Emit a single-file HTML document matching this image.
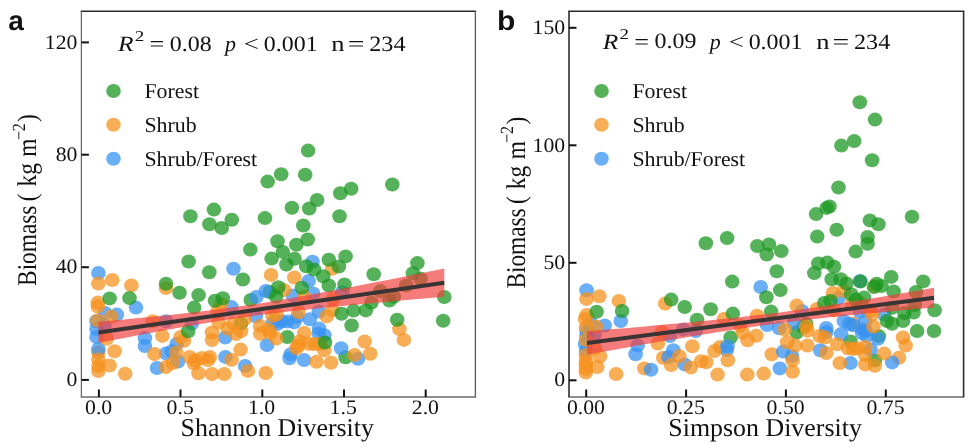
<!DOCTYPE html>
<html><head><meta charset="utf-8"><style>
html,body{margin:0;padding:0;background:#fff;}
svg{display:block;}
text{text-rendering:geometricPrecision;}
text{fill:#111;}
</style></head><body>
<svg width="976" height="446" viewBox="0 0 976 446">
<rect width="976" height="446" fill="#fff"/>
<g opacity="0.999">
<ellipse cx="250.8" cy="300.0" rx="7.3" ry="7.0" fill="#1E9823" fill-opacity="0.75"/>
<ellipse cx="269.8" cy="292.0" rx="7.3" ry="7.0" fill="#1E9823" fill-opacity="0.75"/>
<ellipse cx="98.4" cy="352.5" rx="7.3" ry="7.0" fill="#F6921F" fill-opacity="0.75"/>
<ellipse cx="241.1" cy="323.6" rx="7.3" ry="7.0" fill="#1E9823" fill-opacity="0.75"/>
<ellipse cx="345.6" cy="357.2" rx="7.3" ry="7.0" fill="#1E9823" fill-opacity="0.75"/>
<ellipse cx="287.3" cy="337.0" rx="7.3" ry="7.0" fill="#1E9823" fill-opacity="0.75"/>
<ellipse cx="312.5" cy="261.8" rx="7.3" ry="7.0" fill="#3893F2" fill-opacity="0.75"/>
<ellipse cx="308.6" cy="281.1" rx="7.3" ry="7.0" fill="#3893F2" fill-opacity="0.75"/>
<ellipse cx="233.5" cy="268.7" rx="7.3" ry="7.0" fill="#3893F2" fill-opacity="0.75"/>
<ellipse cx="98.4" cy="272.9" rx="7.3" ry="7.0" fill="#3893F2" fill-opacity="0.75"/>
<ellipse cx="136.0" cy="307.6" rx="7.3" ry="7.0" fill="#3893F2" fill-opacity="0.75"/>
<ellipse cx="231.4" cy="307.1" rx="7.3" ry="7.0" fill="#3893F2" fill-opacity="0.75"/>
<ellipse cx="256.3" cy="297.0" rx="7.3" ry="7.0" fill="#3893F2" fill-opacity="0.75"/>
<ellipse cx="265.8" cy="291.1" rx="7.3" ry="7.0" fill="#3893F2" fill-opacity="0.75"/>
<ellipse cx="292.9" cy="295.6" rx="7.3" ry="7.0" fill="#3893F2" fill-opacity="0.75"/>
<ellipse cx="313.1" cy="293.4" rx="7.3" ry="7.0" fill="#3893F2" fill-opacity="0.75"/>
<ellipse cx="342.3" cy="292.3" rx="7.3" ry="7.0" fill="#3893F2" fill-opacity="0.75"/>
<ellipse cx="318.8" cy="311.5" rx="7.3" ry="7.0" fill="#3893F2" fill-opacity="0.75"/>
<ellipse cx="297.4" cy="316.9" rx="7.3" ry="7.0" fill="#3893F2" fill-opacity="0.75"/>
<ellipse cx="281.7" cy="321.4" rx="7.3" ry="7.0" fill="#3893F2" fill-opacity="0.75"/>
<ellipse cx="309.8" cy="319.2" rx="7.3" ry="7.0" fill="#3893F2" fill-opacity="0.75"/>
<ellipse cx="105.1" cy="312.9" rx="7.3" ry="7.0" fill="#3893F2" fill-opacity="0.75"/>
<ellipse cx="116.9" cy="314.6" rx="7.3" ry="7.0" fill="#3893F2" fill-opacity="0.75"/>
<ellipse cx="96.5" cy="321.3" rx="7.3" ry="7.0" fill="#3893F2" fill-opacity="0.75"/>
<ellipse cx="96.5" cy="329.0" rx="7.3" ry="7.0" fill="#3893F2" fill-opacity="0.75"/>
<ellipse cx="96.5" cy="337.0" rx="7.3" ry="7.0" fill="#3893F2" fill-opacity="0.75"/>
<ellipse cx="104.5" cy="325.8" rx="7.3" ry="7.0" fill="#3893F2" fill-opacity="0.75"/>
<ellipse cx="166.2" cy="321.3" rx="7.3" ry="7.0" fill="#3893F2" fill-opacity="0.75"/>
<ellipse cx="144.9" cy="338.1" rx="7.3" ry="7.0" fill="#3893F2" fill-opacity="0.75"/>
<ellipse cx="144.9" cy="346.0" rx="7.3" ry="7.0" fill="#3893F2" fill-opacity="0.75"/>
<ellipse cx="176.6" cy="344.0" rx="7.3" ry="7.0" fill="#3893F2" fill-opacity="0.75"/>
<ellipse cx="98.4" cy="349.0" rx="7.3" ry="7.0" fill="#3893F2" fill-opacity="0.75"/>
<ellipse cx="166.2" cy="353.5" rx="7.3" ry="7.0" fill="#3893F2" fill-opacity="0.75"/>
<ellipse cx="171.8" cy="351.2" rx="7.3" ry="7.0" fill="#3893F2" fill-opacity="0.75"/>
<ellipse cx="157.0" cy="368.0" rx="7.3" ry="7.0" fill="#3893F2" fill-opacity="0.75"/>
<ellipse cx="178.0" cy="361.5" rx="7.3" ry="7.0" fill="#3893F2" fill-opacity="0.75"/>
<ellipse cx="255.7" cy="316.3" rx="7.3" ry="7.0" fill="#3893F2" fill-opacity="0.75"/>
<ellipse cx="273.1" cy="322.5" rx="7.3" ry="7.0" fill="#3893F2" fill-opacity="0.75"/>
<ellipse cx="225.2" cy="337.5" rx="7.3" ry="7.0" fill="#3893F2" fill-opacity="0.75"/>
<ellipse cx="191.8" cy="323.6" rx="7.3" ry="7.0" fill="#3893F2" fill-opacity="0.75"/>
<ellipse cx="267.0" cy="345.1" rx="7.3" ry="7.0" fill="#3893F2" fill-opacity="0.75"/>
<ellipse cx="225.4" cy="356.9" rx="7.3" ry="7.0" fill="#3893F2" fill-opacity="0.75"/>
<ellipse cx="245.1" cy="365.9" rx="7.3" ry="7.0" fill="#3893F2" fill-opacity="0.75"/>
<ellipse cx="341.1" cy="348.2" rx="7.3" ry="7.0" fill="#3893F2" fill-opacity="0.75"/>
<ellipse cx="358.0" cy="358.7" rx="7.3" ry="7.0" fill="#3893F2" fill-opacity="0.75"/>
<ellipse cx="289.6" cy="358.3" rx="7.3" ry="7.0" fill="#3893F2" fill-opacity="0.75"/>
<ellipse cx="304.1" cy="360.1" rx="7.3" ry="7.0" fill="#3893F2" fill-opacity="0.75"/>
<ellipse cx="318.7" cy="333.6" rx="7.3" ry="7.0" fill="#3893F2" fill-opacity="0.75"/>
<ellipse cx="277.3" cy="324.1" rx="7.3" ry="7.0" fill="#3893F2" fill-opacity="0.75"/>
<ellipse cx="294.1" cy="322.4" rx="7.3" ry="7.0" fill="#3893F2" fill-opacity="0.75"/>
<ellipse cx="324.4" cy="335.3" rx="7.3" ry="7.0" fill="#3893F2" fill-opacity="0.75"/>
<ellipse cx="290.8" cy="354.3" rx="7.3" ry="7.0" fill="#3893F2" fill-opacity="0.75"/>
<ellipse cx="287.5" cy="321.5" rx="7.3" ry="7.0" fill="#3893F2" fill-opacity="0.75"/>
<ellipse cx="319.0" cy="328.5" rx="7.3" ry="7.0" fill="#3893F2" fill-opacity="0.75"/>
<ellipse cx="332.2" cy="268.7" rx="7.3" ry="7.0" fill="#F6921F" fill-opacity="0.75"/>
<ellipse cx="294.3" cy="277.5" rx="7.3" ry="7.0" fill="#F6921F" fill-opacity="0.75"/>
<ellipse cx="271.1" cy="274.9" rx="7.3" ry="7.0" fill="#F6921F" fill-opacity="0.75"/>
<ellipse cx="98.4" cy="283.5" rx="7.3" ry="7.0" fill="#F6921F" fill-opacity="0.75"/>
<ellipse cx="112.2" cy="280.0" rx="7.3" ry="7.0" fill="#F6921F" fill-opacity="0.75"/>
<ellipse cx="131.4" cy="285.4" rx="7.3" ry="7.0" fill="#F6921F" fill-opacity="0.75"/>
<ellipse cx="166.0" cy="288.0" rx="7.3" ry="7.0" fill="#F6921F" fill-opacity="0.75"/>
<ellipse cx="97.8" cy="302.6" rx="7.3" ry="7.0" fill="#F6921F" fill-opacity="0.75"/>
<ellipse cx="97.8" cy="306.5" rx="7.3" ry="7.0" fill="#F6921F" fill-opacity="0.75"/>
<ellipse cx="221.1" cy="304.3" rx="7.3" ry="7.0" fill="#F6921F" fill-opacity="0.75"/>
<ellipse cx="284.0" cy="290.0" rx="7.3" ry="7.0" fill="#F6921F" fill-opacity="0.75"/>
<ellipse cx="304.1" cy="296.7" rx="7.3" ry="7.0" fill="#F6921F" fill-opacity="0.75"/>
<ellipse cx="333.3" cy="299.0" rx="7.3" ry="7.0" fill="#F6921F" fill-opacity="0.75"/>
<ellipse cx="326.7" cy="316.3" rx="7.3" ry="7.0" fill="#F6921F" fill-opacity="0.75"/>
<ellipse cx="332.2" cy="310.2" rx="7.3" ry="7.0" fill="#F6921F" fill-opacity="0.75"/>
<ellipse cx="298.6" cy="312.3" rx="7.3" ry="7.0" fill="#F6921F" fill-opacity="0.75"/>
<ellipse cx="276.6" cy="314.4" rx="7.3" ry="7.0" fill="#F6921F" fill-opacity="0.75"/>
<ellipse cx="111.3" cy="316.8" rx="7.3" ry="7.0" fill="#F6921F" fill-opacity="0.75"/>
<ellipse cx="106.8" cy="338.7" rx="7.3" ry="7.0" fill="#F6921F" fill-opacity="0.75"/>
<ellipse cx="152.7" cy="321.3" rx="7.3" ry="7.0" fill="#F6921F" fill-opacity="0.75"/>
<ellipse cx="162.3" cy="335.9" rx="7.3" ry="7.0" fill="#F6921F" fill-opacity="0.75"/>
<ellipse cx="114.6" cy="351.2" rx="7.3" ry="7.0" fill="#F6921F" fill-opacity="0.75"/>
<ellipse cx="98.4" cy="359.6" rx="7.3" ry="7.0" fill="#F6921F" fill-opacity="0.75"/>
<ellipse cx="98.4" cy="366.0" rx="7.3" ry="7.0" fill="#F6921F" fill-opacity="0.75"/>
<ellipse cx="98.4" cy="371.0" rx="7.3" ry="7.0" fill="#F6921F" fill-opacity="0.75"/>
<ellipse cx="109.6" cy="365.5" rx="7.3" ry="7.0" fill="#F6921F" fill-opacity="0.75"/>
<ellipse cx="125.2" cy="373.7" rx="7.3" ry="7.0" fill="#F6921F" fill-opacity="0.75"/>
<ellipse cx="154.4" cy="354.0" rx="7.3" ry="7.0" fill="#F6921F" fill-opacity="0.75"/>
<ellipse cx="166.0" cy="367.0" rx="7.3" ry="7.0" fill="#F6921F" fill-opacity="0.75"/>
<ellipse cx="172.9" cy="363.0" rx="7.3" ry="7.0" fill="#F6921F" fill-opacity="0.75"/>
<ellipse cx="217.6" cy="310.7" rx="7.3" ry="7.0" fill="#F6921F" fill-opacity="0.75"/>
<ellipse cx="218.7" cy="322.5" rx="7.3" ry="7.0" fill="#F6921F" fill-opacity="0.75"/>
<ellipse cx="244.5" cy="319.1" rx="7.3" ry="7.0" fill="#F6921F" fill-opacity="0.75"/>
<ellipse cx="260.2" cy="325.9" rx="7.3" ry="7.0" fill="#F6921F" fill-opacity="0.75"/>
<ellipse cx="272.5" cy="315.8" rx="7.3" ry="7.0" fill="#F6921F" fill-opacity="0.75"/>
<ellipse cx="212.0" cy="332.5" rx="7.3" ry="7.0" fill="#F6921F" fill-opacity="0.75"/>
<ellipse cx="227.7" cy="328.5" rx="7.3" ry="7.0" fill="#F6921F" fill-opacity="0.75"/>
<ellipse cx="233.3" cy="323.6" rx="7.3" ry="7.0" fill="#F6921F" fill-opacity="0.75"/>
<ellipse cx="236.1" cy="334.0" rx="7.3" ry="7.0" fill="#F6921F" fill-opacity="0.75"/>
<ellipse cx="260.2" cy="333.7" rx="7.3" ry="7.0" fill="#F6921F" fill-opacity="0.75"/>
<ellipse cx="270.3" cy="333.0" rx="7.3" ry="7.0" fill="#F6921F" fill-opacity="0.75"/>
<ellipse cx="180.6" cy="337.1" rx="7.3" ry="7.0" fill="#F6921F" fill-opacity="0.75"/>
<ellipse cx="184.0" cy="340.7" rx="7.3" ry="7.0" fill="#F6921F" fill-opacity="0.75"/>
<ellipse cx="212.0" cy="340.1" rx="7.3" ry="7.0" fill="#F6921F" fill-opacity="0.75"/>
<ellipse cx="241.1" cy="331.1" rx="7.3" ry="7.0" fill="#F6921F" fill-opacity="0.75"/>
<ellipse cx="240.6" cy="349.6" rx="7.3" ry="7.0" fill="#F6921F" fill-opacity="0.75"/>
<ellipse cx="189.6" cy="356.9" rx="7.3" ry="7.0" fill="#F6921F" fill-opacity="0.75"/>
<ellipse cx="195.2" cy="360.3" rx="7.3" ry="7.0" fill="#F6921F" fill-opacity="0.75"/>
<ellipse cx="201.9" cy="358.0" rx="7.3" ry="7.0" fill="#F6921F" fill-opacity="0.75"/>
<ellipse cx="209.8" cy="356.9" rx="7.3" ry="7.0" fill="#F6921F" fill-opacity="0.75"/>
<ellipse cx="194.1" cy="363.6" rx="7.3" ry="7.0" fill="#F6921F" fill-opacity="0.75"/>
<ellipse cx="231.6" cy="359.7" rx="7.3" ry="7.0" fill="#F6921F" fill-opacity="0.75"/>
<ellipse cx="247.9" cy="370.9" rx="7.3" ry="7.0" fill="#F6921F" fill-opacity="0.75"/>
<ellipse cx="265.8" cy="373.0" rx="7.3" ry="7.0" fill="#F6921F" fill-opacity="0.75"/>
<ellipse cx="198.5" cy="373.2" rx="7.3" ry="7.0" fill="#F6921F" fill-opacity="0.75"/>
<ellipse cx="212.0" cy="374.0" rx="7.3" ry="7.0" fill="#F6921F" fill-opacity="0.75"/>
<ellipse cx="224.3" cy="374.0" rx="7.3" ry="7.0" fill="#F6921F" fill-opacity="0.75"/>
<ellipse cx="208.0" cy="360.0" rx="7.3" ry="7.0" fill="#F6921F" fill-opacity="0.75"/>
<ellipse cx="176.1" cy="352.4" rx="7.3" ry="7.0" fill="#F6921F" fill-opacity="0.75"/>
<ellipse cx="399.4" cy="329.1" rx="7.3" ry="7.0" fill="#F6921F" fill-opacity="0.75"/>
<ellipse cx="403.9" cy="339.9" rx="7.3" ry="7.0" fill="#F6921F" fill-opacity="0.75"/>
<ellipse cx="364.7" cy="341.5" rx="7.3" ry="7.0" fill="#F6921F" fill-opacity="0.75"/>
<ellipse cx="370.3" cy="353.8" rx="7.3" ry="7.0" fill="#F6921F" fill-opacity="0.75"/>
<ellipse cx="354.6" cy="354.9" rx="7.3" ry="7.0" fill="#F6921F" fill-opacity="0.75"/>
<ellipse cx="316.5" cy="361.7" rx="7.3" ry="7.0" fill="#F6921F" fill-opacity="0.75"/>
<ellipse cx="331.1" cy="362.8" rx="7.3" ry="7.0" fill="#F6921F" fill-opacity="0.75"/>
<ellipse cx="324.3" cy="350.4" rx="7.3" ry="7.0" fill="#F6921F" fill-opacity="0.75"/>
<ellipse cx="296.3" cy="348.2" rx="7.3" ry="7.0" fill="#F6921F" fill-opacity="0.75"/>
<ellipse cx="299.7" cy="341.5" rx="7.3" ry="7.0" fill="#F6921F" fill-opacity="0.75"/>
<ellipse cx="308.6" cy="343.7" rx="7.3" ry="7.0" fill="#F6921F" fill-opacity="0.75"/>
<ellipse cx="319.8" cy="343.7" rx="7.3" ry="7.0" fill="#F6921F" fill-opacity="0.75"/>
<ellipse cx="268.4" cy="329.7" rx="7.3" ry="7.0" fill="#F6921F" fill-opacity="0.75"/>
<ellipse cx="276.2" cy="338.6" rx="7.3" ry="7.0" fill="#F6921F" fill-opacity="0.75"/>
<ellipse cx="304.2" cy="333.0" rx="7.3" ry="7.0" fill="#F6921F" fill-opacity="0.75"/>
<ellipse cx="298.6" cy="345.4" rx="7.3" ry="7.0" fill="#F6921F" fill-opacity="0.75"/>
<ellipse cx="314.3" cy="344.2" rx="7.3" ry="7.0" fill="#F6921F" fill-opacity="0.75"/>
<ellipse cx="97.5" cy="320.5" rx="7.3" ry="7.0" fill="#F6921F" fill-opacity="0.75"/>
<ellipse cx="308.1" cy="150.6" rx="7.3" ry="7.0" fill="#1E9823" fill-opacity="0.75"/>
<ellipse cx="281.2" cy="174.2" rx="7.3" ry="7.0" fill="#1E9823" fill-opacity="0.75"/>
<ellipse cx="267.7" cy="181.6" rx="7.3" ry="7.0" fill="#1E9823" fill-opacity="0.75"/>
<ellipse cx="305.2" cy="174.8" rx="7.3" ry="7.0" fill="#1E9823" fill-opacity="0.75"/>
<ellipse cx="340.3" cy="193.2" rx="7.3" ry="7.0" fill="#1E9823" fill-opacity="0.75"/>
<ellipse cx="351.2" cy="188.7" rx="7.3" ry="7.0" fill="#1E9823" fill-opacity="0.75"/>
<ellipse cx="317.1" cy="200.0" rx="7.3" ry="7.0" fill="#1E9823" fill-opacity="0.75"/>
<ellipse cx="291.9" cy="207.8" rx="7.3" ry="7.0" fill="#1E9823" fill-opacity="0.75"/>
<ellipse cx="309.2" cy="208.5" rx="7.3" ry="7.0" fill="#1E9823" fill-opacity="0.75"/>
<ellipse cx="213.9" cy="209.6" rx="7.3" ry="7.0" fill="#1E9823" fill-opacity="0.75"/>
<ellipse cx="190.4" cy="216.3" rx="7.3" ry="7.0" fill="#1E9823" fill-opacity="0.75"/>
<ellipse cx="231.8" cy="219.7" rx="7.3" ry="7.0" fill="#1E9823" fill-opacity="0.75"/>
<ellipse cx="209.4" cy="224.2" rx="7.3" ry="7.0" fill="#1E9823" fill-opacity="0.75"/>
<ellipse cx="221.7" cy="228.0" rx="7.3" ry="7.0" fill="#1E9823" fill-opacity="0.75"/>
<ellipse cx="265.0" cy="218.1" rx="7.3" ry="7.0" fill="#1E9823" fill-opacity="0.75"/>
<ellipse cx="339.5" cy="216.3" rx="7.3" ry="7.0" fill="#1E9823" fill-opacity="0.75"/>
<ellipse cx="303.3" cy="225.5" rx="7.3" ry="7.0" fill="#1E9823" fill-opacity="0.75"/>
<ellipse cx="392.3" cy="184.5" rx="7.3" ry="7.0" fill="#1E9823" fill-opacity="0.75"/>
<ellipse cx="277.5" cy="241.3" rx="7.3" ry="7.0" fill="#1E9823" fill-opacity="0.75"/>
<ellipse cx="250.3" cy="249.6" rx="7.3" ry="7.0" fill="#1E9823" fill-opacity="0.75"/>
<ellipse cx="271.6" cy="258.6" rx="7.3" ry="7.0" fill="#1E9823" fill-opacity="0.75"/>
<ellipse cx="282.8" cy="251.9" rx="7.3" ry="7.0" fill="#1E9823" fill-opacity="0.75"/>
<ellipse cx="296.3" cy="244.7" rx="7.3" ry="7.0" fill="#1E9823" fill-opacity="0.75"/>
<ellipse cx="307.7" cy="239.5" rx="7.3" ry="7.0" fill="#1E9823" fill-opacity="0.75"/>
<ellipse cx="294.5" cy="258.8" rx="7.3" ry="7.0" fill="#1E9823" fill-opacity="0.75"/>
<ellipse cx="286.4" cy="264.5" rx="7.3" ry="7.0" fill="#1E9823" fill-opacity="0.75"/>
<ellipse cx="306.2" cy="266.3" rx="7.3" ry="7.0" fill="#1E9823" fill-opacity="0.75"/>
<ellipse cx="314.0" cy="269.5" rx="7.3" ry="7.0" fill="#1E9823" fill-opacity="0.75"/>
<ellipse cx="328.8" cy="259.8" rx="7.3" ry="7.0" fill="#1E9823" fill-opacity="0.75"/>
<ellipse cx="345.6" cy="256.4" rx="7.3" ry="7.0" fill="#1E9823" fill-opacity="0.75"/>
<ellipse cx="338.9" cy="266.5" rx="7.3" ry="7.0" fill="#1E9823" fill-opacity="0.75"/>
<ellipse cx="323.2" cy="276.3" rx="7.3" ry="7.0" fill="#1E9823" fill-opacity="0.75"/>
<ellipse cx="328.8" cy="285.5" rx="7.3" ry="7.0" fill="#1E9823" fill-opacity="0.75"/>
<ellipse cx="344.5" cy="284.4" rx="7.3" ry="7.0" fill="#1E9823" fill-opacity="0.75"/>
<ellipse cx="301.9" cy="287.8" rx="7.3" ry="7.0" fill="#1E9823" fill-opacity="0.75"/>
<ellipse cx="188.6" cy="261.5" rx="7.3" ry="7.0" fill="#1E9823" fill-opacity="0.75"/>
<ellipse cx="209.3" cy="272.2" rx="7.3" ry="7.0" fill="#1E9823" fill-opacity="0.75"/>
<ellipse cx="242.9" cy="279.5" rx="7.3" ry="7.0" fill="#1E9823" fill-opacity="0.75"/>
<ellipse cx="166.0" cy="283.8" rx="7.3" ry="7.0" fill="#1E9823" fill-opacity="0.75"/>
<ellipse cx="179.5" cy="292.7" rx="7.3" ry="7.0" fill="#1E9823" fill-opacity="0.75"/>
<ellipse cx="198.6" cy="295.1" rx="7.3" ry="7.0" fill="#1E9823" fill-opacity="0.75"/>
<ellipse cx="109.6" cy="298.4" rx="7.3" ry="7.0" fill="#1E9823" fill-opacity="0.75"/>
<ellipse cx="129.5" cy="298.1" rx="7.3" ry="7.0" fill="#1E9823" fill-opacity="0.75"/>
<ellipse cx="215.0" cy="300.7" rx="7.3" ry="7.0" fill="#1E9823" fill-opacity="0.75"/>
<ellipse cx="222.8" cy="298.2" rx="7.3" ry="7.0" fill="#1E9823" fill-opacity="0.75"/>
<ellipse cx="194.2" cy="307.6" rx="7.3" ry="7.0" fill="#1E9823" fill-opacity="0.75"/>
<ellipse cx="278.3" cy="287.3" rx="7.3" ry="7.0" fill="#1E9823" fill-opacity="0.75"/>
<ellipse cx="276.1" cy="296.7" rx="7.3" ry="7.0" fill="#1E9823" fill-opacity="0.75"/>
<ellipse cx="373.7" cy="274.3" rx="7.3" ry="7.0" fill="#1E9823" fill-opacity="0.75"/>
<ellipse cx="417.4" cy="263.1" rx="7.3" ry="7.0" fill="#1E9823" fill-opacity="0.75"/>
<ellipse cx="412.9" cy="273.2" rx="7.3" ry="7.0" fill="#1E9823" fill-opacity="0.75"/>
<ellipse cx="420.7" cy="278.8" rx="7.3" ry="7.0" fill="#1E9823" fill-opacity="0.75"/>
<ellipse cx="406.2" cy="285.5" rx="7.3" ry="7.0" fill="#1E9823" fill-opacity="0.75"/>
<ellipse cx="380.4" cy="291.1" rx="7.3" ry="7.0" fill="#1E9823" fill-opacity="0.75"/>
<ellipse cx="393.8" cy="296.7" rx="7.3" ry="7.0" fill="#1E9823" fill-opacity="0.75"/>
<ellipse cx="389.4" cy="300.5" rx="7.3" ry="7.0" fill="#1E9823" fill-opacity="0.75"/>
<ellipse cx="371.4" cy="302.8" rx="7.3" ry="7.0" fill="#1E9823" fill-opacity="0.75"/>
<ellipse cx="444.3" cy="297.0" rx="7.3" ry="7.0" fill="#1E9823" fill-opacity="0.75"/>
<ellipse cx="353.6" cy="310.6" rx="7.3" ry="7.0" fill="#1E9823" fill-opacity="0.75"/>
<ellipse cx="365.8" cy="310.4" rx="7.3" ry="7.0" fill="#1E9823" fill-opacity="0.75"/>
<ellipse cx="341.6" cy="313.8" rx="7.3" ry="7.0" fill="#1E9823" fill-opacity="0.75"/>
<ellipse cx="397.2" cy="319.7" rx="7.3" ry="7.0" fill="#1E9823" fill-opacity="0.75"/>
<ellipse cx="443.2" cy="320.8" rx="7.3" ry="7.0" fill="#1E9823" fill-opacity="0.75"/>
<ellipse cx="351.6" cy="325.5" rx="7.3" ry="7.0" fill="#1E9823" fill-opacity="0.75"/>
<ellipse cx="188.2" cy="331.2" rx="7.3" ry="7.0" fill="#1E9823" fill-opacity="0.75"/>
<ellipse cx="325.0" cy="342.5" rx="7.3" ry="7.0" fill="#1E9823" fill-opacity="0.75"/>
<path d="M98.50,321.79 L107.14,321.00 L115.79,320.21 L124.44,319.40 L133.08,318.59 L141.72,317.75 L150.37,316.91 L159.01,316.04 L167.66,315.15 L176.31,314.24 L184.95,313.30 L193.59,312.32 L202.24,311.31 L210.89,310.26 L219.53,309.16 L228.18,308.01 L236.82,306.82 L245.47,305.57 L254.11,304.27 L262.75,302.91 L271.40,301.51 L280.05,300.07 L288.69,298.59 L297.34,297.07 L305.98,295.52 L314.62,293.94 L323.27,292.33 L331.92,290.71 L340.56,289.07 L349.21,287.41 L357.85,285.74 L366.50,284.06 L375.14,282.37 L383.78,280.67 L392.43,278.96 L401.07,277.24 L409.72,275.52 L418.37,273.79 L427.01,272.06 L435.66,270.32 L444.30,268.58 L444.30,296.82 L435.66,297.57 L427.01,298.31 L418.37,299.07 L409.72,299.82 L401.07,300.59 L392.43,301.35 L383.78,302.13 L375.14,302.91 L366.50,303.71 L357.85,304.51 L349.21,305.32 L340.56,306.15 L331.92,306.99 L323.27,307.86 L314.62,308.74 L305.98,309.64 L297.34,310.58 L288.69,311.54 L280.05,312.54 L271.40,313.59 L262.75,314.67 L254.11,315.80 L245.47,316.99 L236.82,318.22 L228.18,319.51 L219.53,320.85 L210.89,322.24 L202.24,323.67 L193.59,325.14 L184.95,326.65 L176.31,328.20 L167.66,329.77 L159.01,331.37 L150.37,332.98 L141.72,334.62 L133.08,336.27 L124.44,337.94 L115.79,339.62 L107.14,341.31 L98.50,343.01Z" fill="#F23C3C" fill-opacity="0.68"/><line x1="98.5" y1="332.4" x2="444.3" y2="282.7" stroke="#3B3434" stroke-width="4"/>
<line x1="80.7" y1="11.2" x2="476.09999999999997" y2="11.2" stroke="#2a2a2a" stroke-width="1.6"/>
<line x1="80.7" y1="397" x2="476.09999999999997" y2="397" stroke="#6a6a6a" stroke-width="1.3"/>
<line x1="81.4" y1="11.2" x2="81.4" y2="397" stroke="#6a6a6a" stroke-width="1.3"/>
<line x1="475.4" y1="11.2" x2="475.4" y2="397" stroke="#5a5a5a" stroke-width="1.3"/>
<line x1="81.4" y1="42.4" x2="88.9" y2="42.4" stroke="#111" stroke-width="2"/>
<text transform="translate(44.77,48.66) scale(1.060,1)" font-family="Liberation Serif" font-size="20.5">120</text>
<line x1="81.4" y1="154.7" x2="88.9" y2="154.7" stroke="#111" stroke-width="2"/>
<text transform="translate(55.64,160.86) scale(1.060,1)" font-family="Liberation Serif" font-size="20.5">80</text>
<line x1="81.4" y1="267.2" x2="88.9" y2="267.2" stroke="#111" stroke-width="2"/>
<text transform="translate(55.64,273.36) scale(1.060,1)" font-family="Liberation Serif" font-size="20.5">40</text>
<line x1="81.4" y1="379.9" x2="88.9" y2="379.9" stroke="#111" stroke-width="2"/>
<text transform="translate(66.50,386.06) scale(1.060,1)" font-family="Liberation Serif" font-size="20.5">0</text>
<line x1="98.9" y1="397" x2="98.9" y2="389.5" stroke="#111" stroke-width="2"/>
<text transform="translate(85.02,414.19) scale(1.060,1)" font-family="Liberation Serif" font-size="20.5">0.0</text>
<line x1="180.5" y1="397" x2="180.5" y2="389.5" stroke="#111" stroke-width="2"/>
<text transform="translate(166.62,414.19) scale(1.060,1)" font-family="Liberation Serif" font-size="20.5">0.5</text>
<line x1="262.3" y1="397" x2="262.3" y2="389.5" stroke="#111" stroke-width="2"/>
<text transform="translate(247.88,414.19) scale(1.060,1)" font-family="Liberation Serif" font-size="20.5">1.0</text>
<line x1="344" y1="397" x2="344" y2="389.5" stroke="#111" stroke-width="2"/>
<text transform="translate(329.58,414.40) scale(1.060,1)" font-family="Liberation Serif" font-size="20.5">1.5</text>
<line x1="425.7" y1="397" x2="425.7" y2="389.5" stroke="#111" stroke-width="2"/>
<text transform="translate(411.82,414.19) scale(1.060,1)" font-family="Liberation Serif" font-size="20.5">2.0</text>
<ellipse cx="663.2" cy="357.7" rx="7.3" ry="7.0" fill="#F6921F" fill-opacity="0.75"/>
<ellipse cx="644.3" cy="368.4" rx="7.3" ry="7.0" fill="#F6921F" fill-opacity="0.75"/>
<ellipse cx="730.7" cy="337.5" rx="7.3" ry="7.0" fill="#1E9823" fill-opacity="0.75"/>
<ellipse cx="796.7" cy="332.5" rx="7.3" ry="7.0" fill="#1E9823" fill-opacity="0.75"/>
<ellipse cx="803.4" cy="327.1" rx="7.3" ry="7.0" fill="#1E9823" fill-opacity="0.75"/>
<ellipse cx="720.0" cy="346.9" rx="7.3" ry="7.0" fill="#F6921F" fill-opacity="0.75"/>
<ellipse cx="771.8" cy="354.3" rx="7.3" ry="7.0" fill="#F6921F" fill-opacity="0.75"/>
<ellipse cx="806.1" cy="323.8" rx="7.3" ry="7.0" fill="#1E9823" fill-opacity="0.75"/>
<ellipse cx="853.5" cy="323.5" rx="7.3" ry="7.0" fill="#F6921F" fill-opacity="0.75"/>
<ellipse cx="878.8" cy="336.1" rx="7.3" ry="7.0" fill="#1E9823" fill-opacity="0.75"/>
<ellipse cx="850.5" cy="341.5" rx="7.3" ry="7.0" fill="#1E9823" fill-opacity="0.75"/>
<ellipse cx="874.8" cy="360.4" rx="7.3" ry="7.0" fill="#1E9823" fill-opacity="0.75"/>
<ellipse cx="899.0" cy="357.7" rx="7.3" ry="7.0" fill="#F6921F" fill-opacity="0.75"/>
<ellipse cx="792.0" cy="356.0" rx="7.3" ry="7.0" fill="#3893F2" fill-opacity="0.75"/>
<ellipse cx="860.0" cy="281.0" rx="7.3" ry="7.0" fill="#3893F2" fill-opacity="0.75"/>
<ellipse cx="760.7" cy="287.0" rx="7.3" ry="7.0" fill="#3893F2" fill-opacity="0.75"/>
<ellipse cx="586.5" cy="290.2" rx="7.3" ry="7.0" fill="#3893F2" fill-opacity="0.75"/>
<ellipse cx="620.8" cy="321.0" rx="7.3" ry="7.0" fill="#3893F2" fill-opacity="0.75"/>
<ellipse cx="604.7" cy="325.5" rx="7.3" ry="7.0" fill="#3893F2" fill-opacity="0.75"/>
<ellipse cx="591.2" cy="323.5" rx="7.3" ry="7.0" fill="#3893F2" fill-opacity="0.75"/>
<ellipse cx="586.5" cy="330.8" rx="7.3" ry="7.0" fill="#3893F2" fill-opacity="0.75"/>
<ellipse cx="586.5" cy="336.1" rx="7.3" ry="7.0" fill="#3893F2" fill-opacity="0.75"/>
<ellipse cx="585.1" cy="344.2" rx="7.3" ry="7.0" fill="#3893F2" fill-opacity="0.75"/>
<ellipse cx="594.6" cy="334.8" rx="7.3" ry="7.0" fill="#3893F2" fill-opacity="0.75"/>
<ellipse cx="637.6" cy="345.6" rx="7.3" ry="7.0" fill="#3893F2" fill-opacity="0.75"/>
<ellipse cx="635.6" cy="354.3" rx="7.3" ry="7.0" fill="#3893F2" fill-opacity="0.75"/>
<ellipse cx="669.9" cy="336.1" rx="7.3" ry="7.0" fill="#3893F2" fill-opacity="0.75"/>
<ellipse cx="673.3" cy="350.3" rx="7.3" ry="7.0" fill="#3893F2" fill-opacity="0.75"/>
<ellipse cx="668.6" cy="357.0" rx="7.3" ry="7.0" fill="#3893F2" fill-opacity="0.75"/>
<ellipse cx="684.7" cy="364.4" rx="7.3" ry="7.0" fill="#3893F2" fill-opacity="0.75"/>
<ellipse cx="651.1" cy="369.8" rx="7.3" ry="7.0" fill="#3893F2" fill-opacity="0.75"/>
<ellipse cx="683.4" cy="329.4" rx="7.3" ry="7.0" fill="#3893F2" fill-opacity="0.75"/>
<ellipse cx="726.8" cy="350.0" rx="7.3" ry="7.0" fill="#3893F2" fill-opacity="0.75"/>
<ellipse cx="802.0" cy="311.0" rx="7.3" ry="7.0" fill="#3893F2" fill-opacity="0.75"/>
<ellipse cx="767.1" cy="325.1" rx="7.3" ry="7.0" fill="#3893F2" fill-opacity="0.75"/>
<ellipse cx="695.8" cy="331.1" rx="7.3" ry="7.0" fill="#3893F2" fill-opacity="0.75"/>
<ellipse cx="779.2" cy="328.3" rx="7.3" ry="7.0" fill="#3893F2" fill-opacity="0.75"/>
<ellipse cx="794.0" cy="323.0" rx="7.3" ry="7.0" fill="#3893F2" fill-opacity="0.75"/>
<ellipse cx="727.4" cy="346.2" rx="7.3" ry="7.0" fill="#3893F2" fill-opacity="0.75"/>
<ellipse cx="783.2" cy="351.6" rx="7.3" ry="7.0" fill="#3893F2" fill-opacity="0.75"/>
<ellipse cx="779.8" cy="368.4" rx="7.3" ry="7.0" fill="#3893F2" fill-opacity="0.75"/>
<ellipse cx="838.4" cy="298.3" rx="7.3" ry="7.0" fill="#3893F2" fill-opacity="0.75"/>
<ellipse cx="860.0" cy="311.7" rx="7.3" ry="7.0" fill="#3893F2" fill-opacity="0.75"/>
<ellipse cx="843.8" cy="321.1" rx="7.3" ry="7.0" fill="#3893F2" fill-opacity="0.75"/>
<ellipse cx="853.2" cy="325.2" rx="7.3" ry="7.0" fill="#3893F2" fill-opacity="0.75"/>
<ellipse cx="865.3" cy="321.1" rx="7.3" ry="7.0" fill="#3893F2" fill-opacity="0.75"/>
<ellipse cx="884.2" cy="314.4" rx="7.3" ry="7.0" fill="#3893F2" fill-opacity="0.75"/>
<ellipse cx="826.3" cy="327.9" rx="7.3" ry="7.0" fill="#3893F2" fill-opacity="0.75"/>
<ellipse cx="826.3" cy="332.1" rx="7.3" ry="7.0" fill="#3893F2" fill-opacity="0.75"/>
<ellipse cx="841.1" cy="334.1" rx="7.3" ry="7.0" fill="#3893F2" fill-opacity="0.75"/>
<ellipse cx="820.3" cy="350.3" rx="7.3" ry="7.0" fill="#3893F2" fill-opacity="0.75"/>
<ellipse cx="849.2" cy="324.0" rx="7.3" ry="7.0" fill="#3893F2" fill-opacity="0.75"/>
<ellipse cx="862.7" cy="329.4" rx="7.3" ry="7.0" fill="#3893F2" fill-opacity="0.75"/>
<ellipse cx="866.7" cy="336.1" rx="7.3" ry="7.0" fill="#3893F2" fill-opacity="0.75"/>
<ellipse cx="878.1" cy="338.8" rx="7.3" ry="7.0" fill="#3893F2" fill-opacity="0.75"/>
<ellipse cx="870.7" cy="349.6" rx="7.3" ry="7.0" fill="#3893F2" fill-opacity="0.75"/>
<ellipse cx="850.5" cy="363.1" rx="7.3" ry="7.0" fill="#3893F2" fill-opacity="0.75"/>
<ellipse cx="892.2" cy="362.4" rx="7.3" ry="7.0" fill="#3893F2" fill-opacity="0.75"/>
<ellipse cx="586.0" cy="351.0" rx="7.3" ry="7.0" fill="#3893F2" fill-opacity="0.75"/>
<ellipse cx="862.0" cy="333.0" rx="7.3" ry="7.0" fill="#3893F2" fill-opacity="0.75"/>
<ellipse cx="866.0" cy="331.0" rx="7.3" ry="7.0" fill="#3893F2" fill-opacity="0.75"/>
<ellipse cx="875.0" cy="286.0" rx="7.3" ry="7.0" fill="#F6921F" fill-opacity="0.75"/>
<ellipse cx="586.5" cy="298.9" rx="7.3" ry="7.0" fill="#F6921F" fill-opacity="0.75"/>
<ellipse cx="599.3" cy="296.2" rx="7.3" ry="7.0" fill="#F6921F" fill-opacity="0.75"/>
<ellipse cx="618.8" cy="300.9" rx="7.3" ry="7.0" fill="#F6921F" fill-opacity="0.75"/>
<ellipse cx="586.5" cy="315.1" rx="7.3" ry="7.0" fill="#F6921F" fill-opacity="0.75"/>
<ellipse cx="585.1" cy="319.1" rx="7.3" ry="7.0" fill="#F6921F" fill-opacity="0.75"/>
<ellipse cx="595.9" cy="326.6" rx="7.3" ry="7.0" fill="#F6921F" fill-opacity="0.75"/>
<ellipse cx="665.2" cy="303.6" rx="7.3" ry="7.0" fill="#F6921F" fill-opacity="0.75"/>
<ellipse cx="585.8" cy="355.0" rx="7.3" ry="7.0" fill="#F6921F" fill-opacity="0.75"/>
<ellipse cx="585.8" cy="364.4" rx="7.3" ry="7.0" fill="#F6921F" fill-opacity="0.75"/>
<ellipse cx="585.8" cy="372.5" rx="7.3" ry="7.0" fill="#F6921F" fill-opacity="0.75"/>
<ellipse cx="594.6" cy="348.3" rx="7.3" ry="7.0" fill="#F6921F" fill-opacity="0.75"/>
<ellipse cx="600.0" cy="356.3" rx="7.3" ry="7.0" fill="#F6921F" fill-opacity="0.75"/>
<ellipse cx="597.3" cy="367.1" rx="7.3" ry="7.0" fill="#F6921F" fill-opacity="0.75"/>
<ellipse cx="616.1" cy="374.0" rx="7.3" ry="7.0" fill="#F6921F" fill-opacity="0.75"/>
<ellipse cx="657.8" cy="343.5" rx="7.3" ry="7.0" fill="#F6921F" fill-opacity="0.75"/>
<ellipse cx="661.8" cy="332.1" rx="7.3" ry="7.0" fill="#F6921F" fill-opacity="0.75"/>
<ellipse cx="671.2" cy="365.1" rx="7.3" ry="7.0" fill="#F6921F" fill-opacity="0.75"/>
<ellipse cx="679.3" cy="356.3" rx="7.3" ry="7.0" fill="#F6921F" fill-opacity="0.75"/>
<ellipse cx="690.9" cy="367.4" rx="7.3" ry="7.0" fill="#F6921F" fill-opacity="0.75"/>
<ellipse cx="701.2" cy="361.3" rx="7.3" ry="7.0" fill="#F6921F" fill-opacity="0.75"/>
<ellipse cx="706.3" cy="362.3" rx="7.3" ry="7.0" fill="#F6921F" fill-opacity="0.75"/>
<ellipse cx="717.6" cy="374.6" rx="7.3" ry="7.0" fill="#F6921F" fill-opacity="0.75"/>
<ellipse cx="727.8" cy="360.2" rx="7.3" ry="7.0" fill="#F6921F" fill-opacity="0.75"/>
<ellipse cx="714.5" cy="351.0" rx="7.3" ry="7.0" fill="#F6921F" fill-opacity="0.75"/>
<ellipse cx="747.3" cy="374.6" rx="7.3" ry="7.0" fill="#F6921F" fill-opacity="0.75"/>
<ellipse cx="763.7" cy="373.6" rx="7.3" ry="7.0" fill="#F6921F" fill-opacity="0.75"/>
<ellipse cx="724.0" cy="319.0" rx="7.3" ry="7.0" fill="#F6921F" fill-opacity="0.75"/>
<ellipse cx="757.0" cy="315.7" rx="7.3" ry="7.0" fill="#F6921F" fill-opacity="0.75"/>
<ellipse cx="796.7" cy="305.6" rx="7.3" ry="7.0" fill="#F6921F" fill-opacity="0.75"/>
<ellipse cx="742.9" cy="332.8" rx="7.3" ry="7.0" fill="#F6921F" fill-opacity="0.75"/>
<ellipse cx="756.3" cy="335.8" rx="7.3" ry="7.0" fill="#F6921F" fill-opacity="0.75"/>
<ellipse cx="740.2" cy="325.7" rx="7.3" ry="7.0" fill="#F6921F" fill-opacity="0.75"/>
<ellipse cx="784.8" cy="329.6" rx="7.3" ry="7.0" fill="#F6921F" fill-opacity="0.75"/>
<ellipse cx="692.4" cy="346.2" rx="7.3" ry="7.0" fill="#F6921F" fill-opacity="0.75"/>
<ellipse cx="747.6" cy="340.2" rx="7.3" ry="7.0" fill="#F6921F" fill-opacity="0.75"/>
<ellipse cx="787.2" cy="342.2" rx="7.3" ry="7.0" fill="#F6921F" fill-opacity="0.75"/>
<ellipse cx="795.3" cy="345.6" rx="7.3" ry="7.0" fill="#F6921F" fill-opacity="0.75"/>
<ellipse cx="792.6" cy="360.4" rx="7.3" ry="7.0" fill="#F6921F" fill-opacity="0.75"/>
<ellipse cx="792.6" cy="371.8" rx="7.3" ry="7.0" fill="#F6921F" fill-opacity="0.75"/>
<ellipse cx="833.0" cy="292.9" rx="7.3" ry="7.0" fill="#F6921F" fill-opacity="0.75"/>
<ellipse cx="843.8" cy="290.9" rx="7.3" ry="7.0" fill="#F6921F" fill-opacity="0.75"/>
<ellipse cx="816.9" cy="309.0" rx="7.3" ry="7.0" fill="#F6921F" fill-opacity="0.75"/>
<ellipse cx="851.9" cy="303.6" rx="7.3" ry="7.0" fill="#F6921F" fill-opacity="0.75"/>
<ellipse cx="861.3" cy="303.6" rx="7.3" ry="7.0" fill="#F6921F" fill-opacity="0.75"/>
<ellipse cx="834.4" cy="310.4" rx="7.3" ry="7.0" fill="#F6921F" fill-opacity="0.75"/>
<ellipse cx="870.7" cy="310.4" rx="7.3" ry="7.0" fill="#F6921F" fill-opacity="0.75"/>
<ellipse cx="806.1" cy="326.5" rx="7.3" ry="7.0" fill="#F6921F" fill-opacity="0.75"/>
<ellipse cx="872.1" cy="314.4" rx="7.3" ry="7.0" fill="#F6921F" fill-opacity="0.75"/>
<ellipse cx="873.4" cy="326.5" rx="7.3" ry="7.0" fill="#F6921F" fill-opacity="0.75"/>
<ellipse cx="807.5" cy="330.8" rx="7.3" ry="7.0" fill="#F6921F" fill-opacity="0.75"/>
<ellipse cx="819.6" cy="336.1" rx="7.3" ry="7.0" fill="#F6921F" fill-opacity="0.75"/>
<ellipse cx="825.0" cy="337.5" rx="7.3" ry="7.0" fill="#F6921F" fill-opacity="0.75"/>
<ellipse cx="837.1" cy="344.2" rx="7.3" ry="7.0" fill="#F6921F" fill-opacity="0.75"/>
<ellipse cx="807.5" cy="345.6" rx="7.3" ry="7.0" fill="#F6921F" fill-opacity="0.75"/>
<ellipse cx="826.3" cy="353.0" rx="7.3" ry="7.0" fill="#F6921F" fill-opacity="0.75"/>
<ellipse cx="847.9" cy="348.3" rx="7.3" ry="7.0" fill="#F6921F" fill-opacity="0.75"/>
<ellipse cx="857.3" cy="348.3" rx="7.3" ry="7.0" fill="#F6921F" fill-opacity="0.75"/>
<ellipse cx="865.3" cy="346.9" rx="7.3" ry="7.0" fill="#F6921F" fill-opacity="0.75"/>
<ellipse cx="865.3" cy="355.0" rx="7.3" ry="7.0" fill="#F6921F" fill-opacity="0.75"/>
<ellipse cx="839.8" cy="363.1" rx="7.3" ry="7.0" fill="#F6921F" fill-opacity="0.75"/>
<ellipse cx="865.3" cy="364.4" rx="7.3" ry="7.0" fill="#F6921F" fill-opacity="0.75"/>
<ellipse cx="874.8" cy="365.7" rx="7.3" ry="7.0" fill="#F6921F" fill-opacity="0.75"/>
<ellipse cx="884.2" cy="353.6" rx="7.3" ry="7.0" fill="#F6921F" fill-opacity="0.75"/>
<ellipse cx="903.0" cy="337.5" rx="7.3" ry="7.0" fill="#F6921F" fill-opacity="0.75"/>
<ellipse cx="905.7" cy="345.6" rx="7.3" ry="7.0" fill="#F6921F" fill-opacity="0.75"/>
<ellipse cx="586.0" cy="327.0" rx="7.3" ry="7.0" fill="#F6921F" fill-opacity="0.75"/>
<ellipse cx="586.0" cy="340.0" rx="7.3" ry="7.0" fill="#F6921F" fill-opacity="0.75"/>
<ellipse cx="586.0" cy="361.0" rx="7.3" ry="7.0" fill="#F6921F" fill-opacity="0.75"/>
<ellipse cx="586.0" cy="369.0" rx="7.3" ry="7.0" fill="#F6921F" fill-opacity="0.75"/>
<ellipse cx="853.0" cy="349.0" rx="7.3" ry="7.0" fill="#F6921F" fill-opacity="0.75"/>
<ellipse cx="859.8" cy="102.3" rx="7.3" ry="7.0" fill="#1E9823" fill-opacity="0.75"/>
<ellipse cx="875.0" cy="119.6" rx="7.3" ry="7.0" fill="#1E9823" fill-opacity="0.75"/>
<ellipse cx="854.2" cy="141.1" rx="7.3" ry="7.0" fill="#1E9823" fill-opacity="0.75"/>
<ellipse cx="841.4" cy="145.6" rx="7.3" ry="7.0" fill="#1E9823" fill-opacity="0.75"/>
<ellipse cx="872.1" cy="160.2" rx="7.3" ry="7.0" fill="#1E9823" fill-opacity="0.75"/>
<ellipse cx="838.5" cy="187.5" rx="7.3" ry="7.0" fill="#1E9823" fill-opacity="0.75"/>
<ellipse cx="826.6" cy="207.9" rx="7.3" ry="7.0" fill="#1E9823" fill-opacity="0.75"/>
<ellipse cx="816.1" cy="214.1" rx="7.3" ry="7.0" fill="#1E9823" fill-opacity="0.75"/>
<ellipse cx="836.7" cy="229.8" rx="7.3" ry="7.0" fill="#1E9823" fill-opacity="0.75"/>
<ellipse cx="817.2" cy="236.6" rx="7.3" ry="7.0" fill="#1E9823" fill-opacity="0.75"/>
<ellipse cx="869.9" cy="220.4" rx="7.3" ry="7.0" fill="#1E9823" fill-opacity="0.75"/>
<ellipse cx="878.4" cy="224.2" rx="7.3" ry="7.0" fill="#1E9823" fill-opacity="0.75"/>
<ellipse cx="912.0" cy="216.8" rx="7.3" ry="7.0" fill="#1E9823" fill-opacity="0.75"/>
<ellipse cx="867.6" cy="237.0" rx="7.3" ry="7.0" fill="#1E9823" fill-opacity="0.75"/>
<ellipse cx="867.6" cy="243.7" rx="7.3" ry="7.0" fill="#1E9823" fill-opacity="0.75"/>
<ellipse cx="855.7" cy="251.6" rx="7.3" ry="7.0" fill="#1E9823" fill-opacity="0.75"/>
<ellipse cx="769.0" cy="244.4" rx="7.3" ry="7.0" fill="#1E9823" fill-opacity="0.75"/>
<ellipse cx="781.3" cy="251.1" rx="7.3" ry="7.0" fill="#1E9823" fill-opacity="0.75"/>
<ellipse cx="766.7" cy="254.5" rx="7.3" ry="7.0" fill="#1E9823" fill-opacity="0.75"/>
<ellipse cx="776.8" cy="271.3" rx="7.3" ry="7.0" fill="#1E9823" fill-opacity="0.75"/>
<ellipse cx="818.3" cy="263.5" rx="7.3" ry="7.0" fill="#1E9823" fill-opacity="0.75"/>
<ellipse cx="827.3" cy="262.4" rx="7.3" ry="7.0" fill="#1E9823" fill-opacity="0.75"/>
<ellipse cx="834.0" cy="266.8" rx="7.3" ry="7.0" fill="#1E9823" fill-opacity="0.75"/>
<ellipse cx="814.3" cy="273.1" rx="7.3" ry="7.0" fill="#1E9823" fill-opacity="0.75"/>
<ellipse cx="831.7" cy="279.2" rx="7.3" ry="7.0" fill="#1E9823" fill-opacity="0.75"/>
<ellipse cx="840.7" cy="279.2" rx="7.3" ry="7.0" fill="#1E9823" fill-opacity="0.75"/>
<ellipse cx="876.6" cy="283.7" rx="7.3" ry="7.0" fill="#1E9823" fill-opacity="0.75"/>
<ellipse cx="891.2" cy="276.9" rx="7.3" ry="7.0" fill="#1E9823" fill-opacity="0.75"/>
<ellipse cx="923.2" cy="281.4" rx="7.3" ry="7.0" fill="#1E9823" fill-opacity="0.75"/>
<ellipse cx="705.8" cy="243.3" rx="7.3" ry="7.0" fill="#1E9823" fill-opacity="0.75"/>
<ellipse cx="727.1" cy="238.1" rx="7.3" ry="7.0" fill="#1E9823" fill-opacity="0.75"/>
<ellipse cx="757.3" cy="246.0" rx="7.3" ry="7.0" fill="#1E9823" fill-opacity="0.75"/>
<ellipse cx="732.2" cy="281.6" rx="7.3" ry="7.0" fill="#1E9823" fill-opacity="0.75"/>
<ellipse cx="596.6" cy="311.7" rx="7.3" ry="7.0" fill="#1E9823" fill-opacity="0.75"/>
<ellipse cx="622.1" cy="311.0" rx="7.3" ry="7.0" fill="#1E9823" fill-opacity="0.75"/>
<ellipse cx="671.2" cy="299.6" rx="7.3" ry="7.0" fill="#1E9823" fill-opacity="0.75"/>
<ellipse cx="684.7" cy="307.0" rx="7.3" ry="7.0" fill="#1E9823" fill-opacity="0.75"/>
<ellipse cx="780.3" cy="290.1" rx="7.3" ry="7.0" fill="#1E9823" fill-opacity="0.75"/>
<ellipse cx="766.4" cy="297.2" rx="7.3" ry="7.0" fill="#1E9823" fill-opacity="0.75"/>
<ellipse cx="710.6" cy="309.3" rx="7.3" ry="7.0" fill="#1E9823" fill-opacity="0.75"/>
<ellipse cx="697.1" cy="319.7" rx="7.3" ry="7.0" fill="#1E9823" fill-opacity="0.75"/>
<ellipse cx="732.8" cy="313.6" rx="7.3" ry="7.0" fill="#1E9823" fill-opacity="0.75"/>
<ellipse cx="771.1" cy="311.6" rx="7.3" ry="7.0" fill="#1E9823" fill-opacity="0.75"/>
<ellipse cx="846.5" cy="283.5" rx="7.3" ry="7.0" fill="#1E9823" fill-opacity="0.75"/>
<ellipse cx="881.5" cy="286.1" rx="7.3" ry="7.0" fill="#1E9823" fill-opacity="0.75"/>
<ellipse cx="893.6" cy="291.5" rx="7.3" ry="7.0" fill="#1E9823" fill-opacity="0.75"/>
<ellipse cx="851.2" cy="294.2" rx="7.3" ry="7.0" fill="#1E9823" fill-opacity="0.75"/>
<ellipse cx="830.4" cy="300.9" rx="7.3" ry="7.0" fill="#1E9823" fill-opacity="0.75"/>
<ellipse cx="824.3" cy="303.0" rx="7.3" ry="7.0" fill="#1E9823" fill-opacity="0.75"/>
<ellipse cx="855.9" cy="299.6" rx="7.3" ry="7.0" fill="#1E9823" fill-opacity="0.75"/>
<ellipse cx="864.0" cy="297.6" rx="7.3" ry="7.0" fill="#1E9823" fill-opacity="0.75"/>
<ellipse cx="892.2" cy="307.7" rx="7.3" ry="7.0" fill="#1E9823" fill-opacity="0.75"/>
<ellipse cx="886.9" cy="321.1" rx="7.3" ry="7.0" fill="#1E9823" fill-opacity="0.75"/>
<ellipse cx="892.2" cy="323.8" rx="7.3" ry="7.0" fill="#1E9823" fill-opacity="0.75"/>
<ellipse cx="903.0" cy="321.1" rx="7.3" ry="7.0" fill="#1E9823" fill-opacity="0.75"/>
<ellipse cx="904.4" cy="313.0" rx="7.3" ry="7.0" fill="#1E9823" fill-opacity="0.75"/>
<ellipse cx="916.0" cy="292.0" rx="7.3" ry="7.0" fill="#1E9823" fill-opacity="0.75"/>
<ellipse cx="914.8" cy="305.1" rx="7.3" ry="7.0" fill="#1E9823" fill-opacity="0.75"/>
<ellipse cx="934.6" cy="310.3" rx="7.3" ry="7.0" fill="#1E9823" fill-opacity="0.75"/>
<ellipse cx="913.6" cy="312.6" rx="7.3" ry="7.0" fill="#1E9823" fill-opacity="0.75"/>
<ellipse cx="917.1" cy="331.0" rx="7.3" ry="7.0" fill="#1E9823" fill-opacity="0.75"/>
<ellipse cx="934.0" cy="331.0" rx="7.3" ry="7.0" fill="#1E9823" fill-opacity="0.75"/>
<ellipse cx="874.0" cy="287.0" rx="7.3" ry="7.0" fill="#1E9823" fill-opacity="0.75"/>
<ellipse cx="829.5" cy="206.5" rx="7.3" ry="7.0" fill="#1E9823" fill-opacity="0.75"/>
<ellipse cx="860.5" cy="281.5" rx="7.3" ry="7.0" fill="#1E9823" fill-opacity="0.75"/>
<path d="M587.00,331.30 L595.68,330.58 L604.36,329.85 L613.03,329.12 L621.71,328.38 L630.39,327.64 L639.07,326.89 L647.74,326.13 L656.42,325.37 L665.10,324.59 L673.77,323.80 L682.45,323.00 L691.13,322.18 L699.81,321.35 L708.49,320.49 L717.16,319.62 L725.84,318.72 L734.52,317.79 L743.19,316.83 L751.87,315.84 L760.55,314.81 L769.23,313.74 L777.90,312.64 L786.58,311.49 L795.26,310.31 L803.94,309.09 L812.62,307.83 L821.29,306.54 L829.97,305.21 L838.65,303.86 L847.33,302.48 L856.00,301.08 L864.68,299.66 L873.36,298.22 L882.04,296.76 L890.71,295.30 L899.39,293.82 L908.07,292.33 L916.75,290.83 L925.42,289.32 L934.10,287.80 L934.10,307.60 L925.42,308.34 L916.75,309.09 L908.07,309.85 L899.39,310.62 L890.71,311.40 L882.04,312.20 L873.36,313.00 L864.68,313.82 L856.00,314.66 L847.33,315.52 L838.65,316.40 L829.97,317.31 L821.29,318.24 L812.62,319.21 L803.94,320.21 L795.26,321.25 L786.58,322.33 L777.90,323.44 L769.23,324.60 L760.55,325.79 L751.87,327.02 L743.19,328.29 L734.52,329.59 L725.84,330.92 L717.16,332.28 L708.49,333.67 L699.81,335.07 L691.13,336.50 L682.45,337.94 L673.77,339.40 L665.10,340.87 L656.42,342.35 L647.74,343.85 L639.07,345.35 L630.39,346.86 L621.71,348.38 L613.03,349.90 L604.36,351.43 L595.68,352.96 L587.00,354.50Z" fill="#F23C3C" fill-opacity="0.68"/><line x1="587" y1="342.9" x2="934.1" y2="297.7" stroke="#3B3434" stroke-width="4"/>
<line x1="568.3" y1="11.2" x2="964.3000000000001" y2="11.2" stroke="#2a2a2a" stroke-width="1.6"/>
<line x1="568.3" y1="397" x2="964.3000000000001" y2="397" stroke="#6a6a6a" stroke-width="1.3"/>
<line x1="569" y1="11.2" x2="569" y2="397" stroke="#2e2e2e" stroke-width="1.6"/>
<line x1="963.6" y1="11.2" x2="963.6" y2="397" stroke="#2e2e2e" stroke-width="1.6"/>
<line x1="569" y1="27.8" x2="576.5" y2="27.8" stroke="#111" stroke-width="2"/>
<text transform="translate(532.57,34.06) scale(1.060,1)" font-family="Liberation Serif" font-size="20.5">150</text>
<line x1="569" y1="145.3" x2="576.5" y2="145.3" stroke="#111" stroke-width="2"/>
<text transform="translate(532.57,151.56) scale(1.060,1)" font-family="Liberation Serif" font-size="20.5">100</text>
<line x1="569" y1="262.8" x2="576.5" y2="262.8" stroke="#111" stroke-width="2"/>
<text transform="translate(543.44,268.96) scale(1.060,1)" font-family="Liberation Serif" font-size="20.5">50</text>
<line x1="569" y1="380.3" x2="576.5" y2="380.3" stroke="#111" stroke-width="2"/>
<text transform="translate(554.30,386.46) scale(1.060,1)" font-family="Liberation Serif" font-size="20.5">0</text>
<line x1="586.2" y1="397" x2="586.2" y2="389.5" stroke="#111" stroke-width="2"/>
<text transform="translate(566.89,414.19) scale(1.060,1)" font-family="Liberation Serif" font-size="20.5">0.00</text>
<line x1="686.1" y1="397" x2="686.1" y2="389.5" stroke="#111" stroke-width="2"/>
<text transform="translate(666.79,414.19) scale(1.060,1)" font-family="Liberation Serif" font-size="20.5">0.25</text>
<line x1="785.9" y1="397" x2="785.9" y2="389.5" stroke="#111" stroke-width="2"/>
<text transform="translate(766.59,414.19) scale(1.060,1)" font-family="Liberation Serif" font-size="20.5">0.50</text>
<line x1="885.8" y1="397" x2="885.8" y2="389.5" stroke="#111" stroke-width="2"/>
<text transform="translate(866.49,414.19) scale(1.060,1)" font-family="Liberation Serif" font-size="20.5">0.75</text>
<ellipse cx="113.5" cy="91" rx="7.3" ry="7.0" fill="#1E9823" fill-opacity="0.75"/>
<text transform="translate(144.44,97.90) scale(1.030,1)" font-family="Liberation Serif" font-size="21.2">Forest</text>
<ellipse cx="113.5" cy="124.8" rx="7.3" ry="7.0" fill="#F6921F" fill-opacity="0.75"/>
<text transform="translate(144.42,131.90) scale(1.030,1)" font-family="Liberation Serif" font-size="21.2">Shrub</text>
<ellipse cx="113.5" cy="158.8" rx="7.3" ry="7.0" fill="#3893F2" fill-opacity="0.75"/>
<text transform="translate(144.42,166.00) scale(1.030,1)" font-family="Liberation Serif" font-size="21.2">Shrub/Forest</text>
<ellipse cx="601.5" cy="91" rx="7.3" ry="7.0" fill="#1E9823" fill-opacity="0.75"/>
<text transform="translate(632.44,97.90) scale(1.030,1)" font-family="Liberation Serif" font-size="21.2">Forest</text>
<ellipse cx="601.5" cy="124.8" rx="7.3" ry="7.0" fill="#F6921F" fill-opacity="0.75"/>
<text transform="translate(632.42,131.90) scale(1.030,1)" font-family="Liberation Serif" font-size="21.2">Shrub</text>
<ellipse cx="601.5" cy="158.8" rx="7.3" ry="7.0" fill="#3893F2" fill-opacity="0.75"/>
<text transform="translate(632.42,166.00) scale(1.030,1)" font-family="Liberation Serif" font-size="21.2">Shrub/Forest</text>
<text transform="translate(8.26,29.62) scale(1.020,1)" font-family="Liberation Sans" font-size="27.5" font-weight="bold">a</text>
<text transform="translate(497.00,29.90) scale(1.100,1)" font-family="Liberation Sans" font-size="27.3" font-weight="bold">b</text>
<text transform="translate(118.00,51.20) scale(1.166,1)" font-family="Liberation Serif" font-size="21.8" font-style="italic">R</text>
<text transform="translate(134.64,41.20) scale(1.267,1)" font-family="Liberation Serif" font-size="15">2</text>
<text transform="translate(149.39,51.40) scale(1.200,1)" font-family="Liberation Serif" font-size="21.8">=</text>
<text transform="translate(169.74,50.76) scale(1.099,1)" font-family="Liberation Serif" font-size="21.8">0.08</text>
<text transform="translate(225.01,51.22) scale(1.004,1)" font-family="Liberation Serif" font-size="21.8" font-style="italic">p</text>
<text transform="translate(243.86,51.40) scale(1.230,1)" font-family="Liberation Serif" font-size="21.8">&lt;</text>
<text transform="translate(263.84,50.96) scale(1.097,1)" font-family="Liberation Serif" font-size="21.8">0.001</text>
<text transform="translate(331.37,51.20) scale(1.217,1)" font-family="Liberation Serif" font-size="21.8">n</text>
<text transform="translate(347.82,51.40) scale(1.357,1)" font-family="Liberation Serif" font-size="21.8">=</text>
<text transform="translate(369.23,51.18) scale(1.109,1)" font-family="Liberation Serif" font-size="21.8">234</text>
<text transform="translate(602.80,48.90) scale(1.166,1)" font-family="Liberation Serif" font-size="21.8" font-style="italic">R</text>
<text transform="translate(619.44,38.90) scale(1.267,1)" font-family="Liberation Serif" font-size="15">2</text>
<text transform="translate(634.19,49.10) scale(1.200,1)" font-family="Liberation Serif" font-size="21.8">=</text>
<text transform="translate(654.54,48.46) scale(1.099,1)" font-family="Liberation Serif" font-size="21.8">0.09</text>
<text transform="translate(709.81,48.92) scale(1.004,1)" font-family="Liberation Serif" font-size="21.8" font-style="italic">p</text>
<text transform="translate(728.66,49.10) scale(1.230,1)" font-family="Liberation Serif" font-size="21.8">&lt;</text>
<text transform="translate(748.64,48.66) scale(1.097,1)" font-family="Liberation Serif" font-size="21.8">0.001</text>
<text transform="translate(816.17,48.90) scale(1.217,1)" font-family="Liberation Serif" font-size="21.8">n</text>
<text transform="translate(832.62,49.10) scale(1.357,1)" font-family="Liberation Serif" font-size="21.8">=</text>
<text transform="translate(854.03,48.88) scale(1.109,1)" font-family="Liberation Serif" font-size="21.8">234</text>
<text transform="translate(180.59,435.62) scale(1.011,1)" font-family="Liberation Serif" font-size="25.6">Shannon Diversity</text>
<text transform="translate(668.29,435.62) scale(1.012,1)" font-family="Liberation Serif" font-size="25.6">Simpson Diversity</text>
<text transform="translate(36.00,285.90) rotate(-90) scale(0.860,1)" font-family="Liberation Serif" font-size="27.1">Biomass</text>
<text transform="translate(36.00,201.23) rotate(-90) scale(0.860,1)" font-family="Liberation Serif" font-size="27.1">(</text>
<text transform="translate(36.00,186.47) rotate(-90) scale(0.860,1)" font-family="Liberation Serif" font-size="27.1">kg</text>
<text transform="translate(36.00,156.67) rotate(-90) scale(0.860,1)" font-family="Liberation Serif" font-size="27.1">m</text>
<text transform="translate(24.60,140.00) rotate(-90) scale(0.860,1)" font-family="Liberation Serif" font-size="18.6">−</text>
<text transform="translate(24.60,131.24) rotate(-90) scale(0.860,1)" font-family="Liberation Serif" font-size="18.6">2</text>
<text transform="translate(36.00,121.90) rotate(-90) scale(0.860,1)" font-family="Liberation Serif" font-size="27.1">)</text>
<text transform="translate(524.60,288.60) rotate(-90) scale(0.860,1)" font-family="Liberation Serif" font-size="27.1">Biomass</text>
<text transform="translate(524.60,203.93) rotate(-90) scale(0.860,1)" font-family="Liberation Serif" font-size="27.1">(</text>
<text transform="translate(524.60,189.17) rotate(-90) scale(0.860,1)" font-family="Liberation Serif" font-size="27.1">kg</text>
<text transform="translate(524.60,159.37) rotate(-90) scale(0.860,1)" font-family="Liberation Serif" font-size="27.1">m</text>
<text transform="translate(513.20,142.70) rotate(-90) scale(0.860,1)" font-family="Liberation Serif" font-size="18.6">−</text>
<text transform="translate(513.20,133.94) rotate(-90) scale(0.860,1)" font-family="Liberation Serif" font-size="18.6">2</text>
<text transform="translate(524.60,124.60) rotate(-90) scale(0.860,1)" font-family="Liberation Serif" font-size="27.1">)</text>
</g>
</svg>
</body></html>
